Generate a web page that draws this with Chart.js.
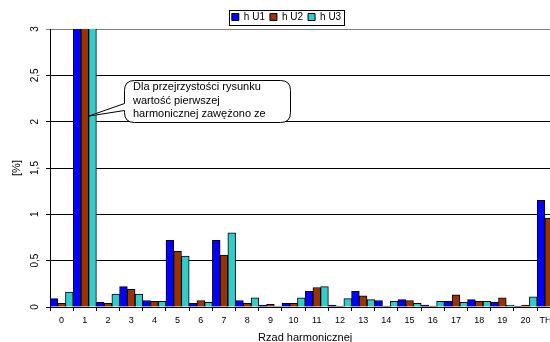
<!DOCTYPE html>
<html>
<head>
<meta charset="utf-8">
<style>
  html, body { margin: 0; padding: 0; overflow: hidden; background: #fff; }
  #wrap { width: 562px; height: 342px; }
</style>
<script src="https://cdn.jsdelivr.net/npm/chart.js@4.4.1/dist/chart.umd.min.js"></script>
</head>
<body>
<div id="wrap"><canvas id="chart" width="562" height="342"></canvas></div>
<script>
// Harmonic orders on the x axis (THD = total harmonic distortion)
const categories = ['0', '1', '2', '3', '4', '5', '6', '7', '8', '9', '10',
                    '11', '12', '13', '14', '15', '16', '17', '18', '19', '20', 'THD'];

// Harmonic content of each phase voltage, in % of the fundamental
const hU1 = [0.09, 100, 0.05, 0.22, 0.07, 0.72, 0.04, 0.72, 0.07, 0.02, 0.04,
             0.17, 0.02, 0.17, 0.07, 0.08, 0.02, 0.06, 0.08, 0.05, 0.01, 1.15];
const hU2 = [0.04, 100, 0.04, 0.19, 0.06, 0.60, 0.07, 0.56, 0.04, 0.03, 0.04,
             0.21, 0.01, 0.12, 0.01, 0.07, 0.01, 0.13, 0.06, 0.10, 0.02, 0.96];
const hU3 = [0.16, 100, 0.14, 0.14, 0.06, 0.55, 0.05, 0.80, 0.10, 0.01, 0.10,
             0.22, 0.09, 0.08, 0.06, 0.04, 0.06, 0.05, 0.06, 0.02, 0.11, 1.05];

const seriesNames = ['h U1', 'h U2', 'h U3'];

// Value axis range (the fundamental is cut off at the top)
const yMin = 0;
const yMax = 3;
const yStep = 0.5;

// Note shown in the callout
const calloutLines = [
  'Dla przejrzystości rysunku',
  'wartość pierwszej',
  'harmonicznej zawężono ze',
  '100% do 3%'
];

const FONT = "'Liberation Sans', Arial, sans-serif";
Chart.defaults.font.family = FONT;
Chart.defaults.color = '#000';

// Legend frame and the callout box
const extras = {
  id: 'extras',
  afterLayout(chart) {
    const lg = chart.legend;
    lg.left += 5.5; lg.right += 5.5;
    lg.top += 3; lg.bottom += 3;
  },
  afterDraw(chart) {
    const ctx = chart.ctx;
    const area = chart.chartArea;
    const yScale = chart.scales.y;

    // frame around the legend
    const hb = chart.legend.legendHitBoxes;
    if (hb && hb.length) {
      const first = hb[0], last = hb[hb.length - 1];
      const cy = first.top + first.height / 2;
      const l = Math.round(first.left - 3) + 0.5;
      const r = Math.round(last.left + last.width + 3) + 0.5;
      const t = Math.round(cy - 7) + 0.5;
      const b = Math.round(cy + 8) + 0.5;
      ctx.save();
      ctx.strokeStyle = '#000';
      ctx.lineWidth = 1;
      ctx.strokeRect(l, t, r - l, b - t);
      ctx.restore();
    }

    // callout pointing at the clipped fundamental
    const bar = chart.getDatasetMeta(2).data[1];
    const tipX = bar.x - bar.width / 2;
    const tipY = yScale.getPixelForValue(2.06);
    const x0 = area.left + 74.5, x1 = area.left + 240.5;
    const y0 = Math.round(yScale.getPixelForValue(2.45)) + 0.5;
    const y1 = Math.round(yScale.getPixelForValue(2.0)) + 0.5;
    const rad = 10;
    const tailTop = y0 + 23, tailBot = y0 + 30;

    ctx.save();
    ctx.beginPath();
    ctx.moveTo(x0 + rad, y0);
    ctx.lineTo(x1 - rad, y0);
    ctx.quadraticCurveTo(x1, y0, x1, y0 + rad);
    ctx.lineTo(x1, y1 - rad);
    ctx.quadraticCurveTo(x1, y1, x1 - rad, y1);
    ctx.lineTo(x0 + rad, y1);
    ctx.quadraticCurveTo(x0, y1, x0, y1 - rad);
    ctx.lineTo(x0, tailBot);
    ctx.lineTo(tipX, tipY);
    ctx.lineTo(x0, tailTop);
    ctx.lineTo(x0, y0 + rad);
    ctx.quadraticCurveTo(x0, y0, x0 + rad, y0);
    ctx.closePath();
    ctx.fillStyle = '#fff';
    ctx.fill();
    ctx.strokeStyle = '#000';
    ctx.lineWidth = 1;
    ctx.stroke();

    ctx.beginPath();
    ctx.rect(x0, y0 - 2, x1 - x0, y1 - y0 + 2);
    ctx.clip();
    ctx.fillStyle = '#000';
    ctx.font = '11px ' + FONT;
    ctx.textAlign = 'left';
    ctx.textBaseline = 'middle';
    calloutLines.forEach((line, i) => {
      ctx.fillText(line, x0 + 8.5, y0 + 6.5 + i * 13.5);
    });
    ctx.restore();
  }
};

const colors = ['#0000ff', '#993300', '#33cccc'];
const seriesData = [hU1, hU2, hU3];

new Chart(document.getElementById('chart'), {
  type: 'bar',
  data: {
    labels: categories,
    datasets: seriesNames.map((name, i) => ({
      label: name,
      data: seriesData[i],
      backgroundColor: colors[i],
      borderColor: '#000',
      borderWidth: 1,
      categoryPercentage: 1,
      barPercentage: 1,
      clip: 0
    }))
  },
  options: {
    responsive: false,
    devicePixelRatio: 1,
    animation: false,
    layout: { padding: { top: 4, left: 0, right: 0, bottom: 0 } },
    plugins: {
      legend: {
        position: 'top',
        labels: {
          font: { size: 10, family: FONT },
          color: '#000',
          boxWidth: 7,
          boxHeight: 7,
          padding: 5
        }
      },
      tooltip: { enabled: false }
    },
    scales: {
      x: {
        type: 'category',
        offset: true,
        grid: {
          offset: true,
          drawOnChartArea: false,
          drawTicks: true,
          tickLength: 4,
          color: '#000'
        },
        border: { display: true, color: '#000', width: 1 },
        ticks: {
          font: { size: 9, family: FONT },
          color: '#000',
          padding: 4,
          minRotation: 0,
          maxRotation: 0,
          autoSkip: false
        },
        title: {
          display: true,
          text: 'Rzad harmonicznej',
          font: { size: 11, family: FONT, lineHeight: 0.8 },
          color: '#000',
          padding: { top: 0, bottom: 0 }
        },
        afterFit(s) { s.height = 35; }
      },
      y: {
        min: yMin,
        max: yMax,
        grid: {
          color: c => (c.tick && c.tick.value === yMax) ? '#808080' : '#000',
          drawTicks: true,
          tickLength: 4
        },
        border: { display: true, color: '#000', width: 1 },
        ticks: {
          stepSize: yStep,
          font: { size: 10, family: FONT },
          color: '#000',
          padding: 4,
          minRotation: 90,
          maxRotation: 90,
          crossAlign: 'center',
          autoSkip: false,
          callback: v => String(v).replace('.', ',')
        },
        title: {
          display: true,
          text: '[%]',
          font: { size: 11, family: FONT, lineHeight: 1 },
          color: '#000',
          padding: { top: 11, bottom: 0 }
        },
        afterFit(s) { s.width = 50; }
      }
    }
  },
  plugins: [extras]
});
</script>
</body>
</html>
